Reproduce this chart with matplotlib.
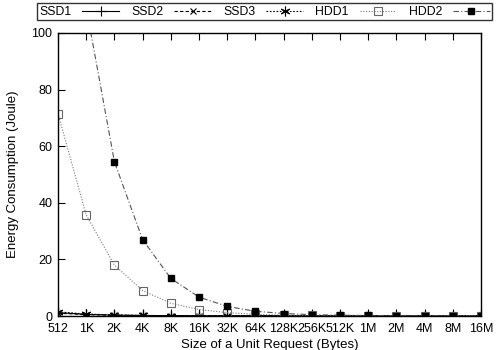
import matplotlib
matplotlib.use("Agg")
import matplotlib.pyplot as plt

sizes = ["512", "1K", "2K", "4K", "8K", "16K", "32K", "64K", "128K", "256K", "512K", "1M", "2M", "4M", "8M", "16M"]
ssd1 = [1.2, 0.6, 0.3, 0.2, 0.15, 0.1, 0.1, 0.1, 0.1, 0.1, 0.1, 0.1, 0.1, 0.1, 0.1, 0.1]
ssd2 = [1.0, 0.5, 0.3, 0.2, 0.15, 0.1, 0.1, 0.1, 0.1, 0.1, 0.1, 0.1, 0.1, 0.1, 0.1, 0.1]
ssd3 = [1.5, 0.7, 0.4, 0.2, 0.15, 0.1, 0.1, 0.1, 0.1, 0.1, 0.1, 0.1, 0.1, 0.1, 0.1, 0.1]
hdd1 = [71.5, 35.7, 18.0, 9.0, 4.5, 2.3, 1.2, 0.6, 0.35, 0.2, 0.15, 0.1, 0.1, 0.1, 0.1, 0.1]
hdd2 = [218.0, 109.0, 54.5, 27.0, 13.3, 6.7, 3.4, 1.7, 0.9, 0.5, 0.3, 0.2, 0.15, 0.1, 0.1, 0.1]

plt.rcParams['font.family'] = ['Liberation Sans', 'DejaVu Sans']
fig = plt.figure(figsize=(5, 3.5), dpi=100)
ax = fig.add_axes([0.116, 0.097, 0.846, 0.809])
x = list(range(len(sizes)))

ast = (6, 2, 0)
ax.plot(x, ssd1, color='black', lw=0.8, ls='-', marker='+', ms=7, mew=0.8, label='SSD1')
ax.plot(x, ssd2, color='black', lw=0.8, ls=(0, (3, 2)), marker='x', ms=5, mew=0.8, label='SSD2')
ax.plot(x, ssd3, color='black', lw=0.8, ls=(0, (1.5, 1.5)), marker=ast, ms=7, mew=0.8, label='SSD3')
ax.plot(x, hdd1, color='#777777', lw=0.8, ls=(0, (1, 1.5)), marker='s', ms=6, mfc='none', mec='#666666', mew=0.8, label='HDD1')
ax.plot(x, hdd2, color='#555555', lw=0.8, ls=(0, (5, 2, 1, 2)), marker='s', ms=5, mfc='black', mec='black', label='HDD2')

ax.set_xlim(0, len(sizes) - 1)
ax.set_ylim(0, 100)
ax.set_xticks(x)
ax.set_xticklabels(sizes)
ax.set_yticks([0, 20, 40, 60, 80, 100])
ax.tick_params(direction='in', length=5, labelsize=9, top=True, right=False, pad=4)
ax.tick_params(axis='x', pad=5)
for s in ax.spines.values():
    s.set_linewidth(1.0)
ax.set_xlabel('Size of a Unit Request (Bytes)', fontsize=9.5, labelpad=3)
ax.set_ylabel('Energy Consumption (Joule)', fontsize=9.5, labelpad=9)

leg = fig.legend(loc='upper center', bbox_to_anchor=(0.529, 0.997), ncol=5, frameon=True,
                 fancybox=False, edgecolor='black', fontsize=8.8, handlelength=3.0,
                 handletextpad=0.9, columnspacing=1.0, borderpad=0.2, borderaxespad=0.2,
                 markerfirst=False)
leg.get_frame().set_linewidth(1.0)

fig.savefig('out.png', dpi=100)
